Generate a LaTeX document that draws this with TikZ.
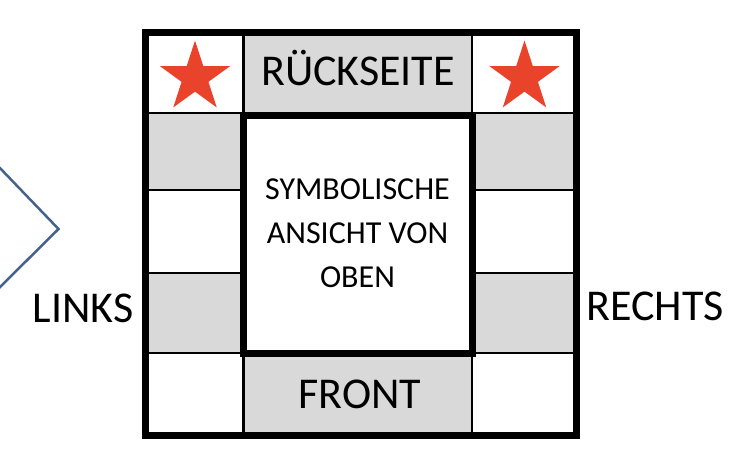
\documentclass[tikz,border=0pt]{standalone}
\usepackage{fontspec}
\setmainfont{Carlito}
\usetikzlibrary{shapes.geometric}
\definecolor{feldgrau}{RGB}{217,217,217}
\definecolor{sternrot}{RGB}{234,67,44}
\definecolor{pfeilblau}{RGB}{68,98,138}

\begin{document}
\begin{tikzpicture}[x=1pt, y=-1pt,
		feld/.style={draw=black, line width=2.5pt},
		grau/.style={feld, fill=feldgrau},
		rahmen/.style={draw=black, line width=7pt},
		sternform/.style={star, star points=5, star point ratio=2.618, fill=sternrot, inner sep=0pt, minimum size=74pt},
		beschriftung/.style={font=\fontsize{44}{52}\selectfont, anchor=base, inner sep=0pt},
		]

		\useasboundingbox (0,0) rectangle (744,458);

		%Felder
		\draw[grau] (243.5,32) rectangle (472,113);
		\draw[grau] (243.5,353) rectangle (472,435);
		\foreach \oben/\unten/\farbe in {32/113/white, 113/190/feldgrau, 190/273/white, 273/353/feldgrau, 353/435/white}{
			\draw[feld, fill=\farbe] (145.5,\oben) rectangle (243.5,\unten);
			\draw[feld, fill=\farbe] (472,\oben) rectangle (576.5,\unten);
		}

		%Rahmen
		\draw[rahmen, fill=white] (243.5,115.5) rectangle (472,353);
		\draw[rahmen] (145.5,32) rectangle (576.5,435);

		%Nodes
		\node[sternform] (sternlinks) at (195,77.5) {};
		\node[sternform] (sternrechts) at (524.5,77.5) {};
		\node[beschriftung] (rueckseite) at (358,85) {RÜCKSEITE};
		\node[beschriftung] (front) at (360,408) {FRONT};
		\node[beschriftung] (links) at (83,322) {LINKS};
		\node[beschriftung] (rechts) at (655,320) {RECHTS};
		\node[align=center, font=\fontsize{32}{44}\selectfont, inner sep=0pt] (ansicht) at (357.5,233) {SYMBOLISCHE\\ANSICHT VON\\OBEN};

		%Lines
		\draw[pfeilblau, line width=2.5pt] (-2,166) -- (58.5,229) -- (-2,289);
	\end{tikzpicture}
\end{document}
